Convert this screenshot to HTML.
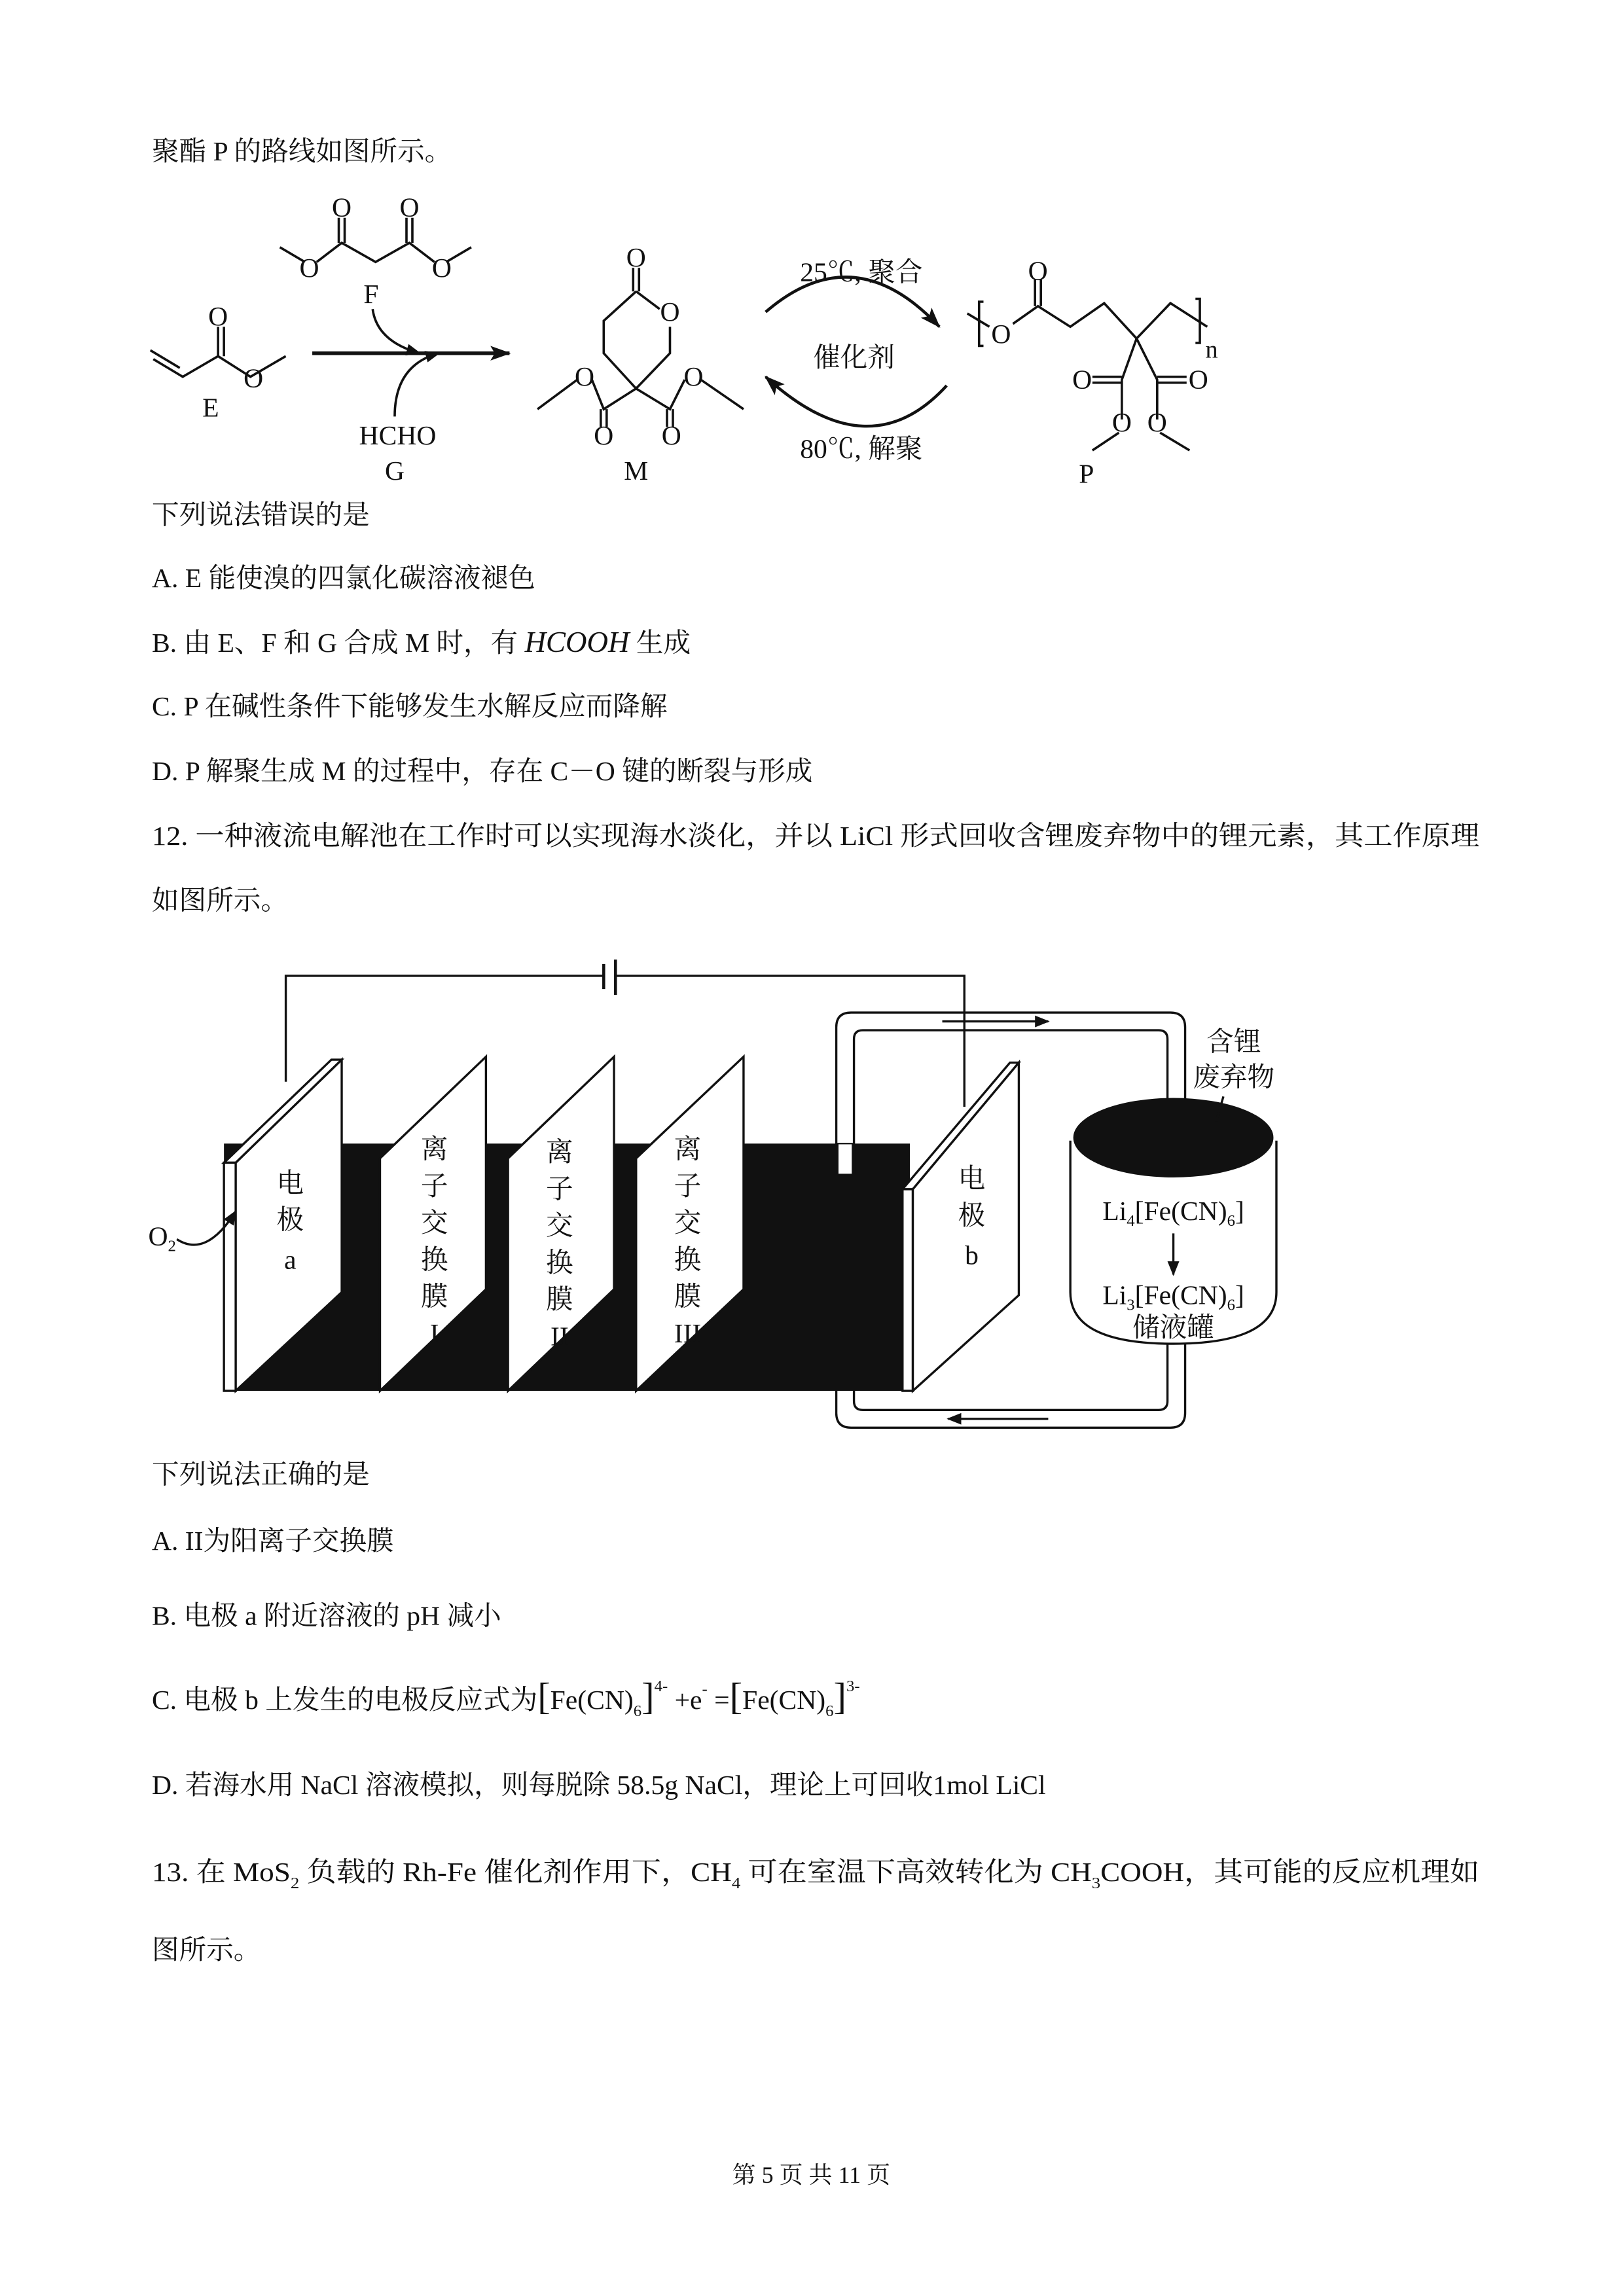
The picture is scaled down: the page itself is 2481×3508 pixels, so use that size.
<!DOCTYPE html>
<html><head><meta charset="utf-8"><style>
html,body{margin:0;padding:0;background:#fff}
svg{display:block}
text{font-family:"Liberation Serif","Noto Serif CJK SC",serif;fill:#111}
</style></head><body>
<svg width="2481" height="3508" viewBox="0 0 1103 1560" xmlns="http://www.w3.org/2000/svg">
<defs>
<marker id="ah" markerWidth="10" markerHeight="8" refX="9" refY="4" orient="auto" markerUnits="userSpaceOnUse"><path d="M0,0 L10,4 L0,8 Z" fill="#111"/></marker>
<marker id="ah2" markerWidth="14" markerHeight="10" refX="13" refY="5" orient="auto" markerUnits="userSpaceOnUse"><path d="M0,0 L14,5 L0,10 L3,5 Z" fill="#111"/></marker>
</defs>
<g font-size="18.5" transform="translate(0,-5)">
<text x="103" y="114">聚酯 P 的路线如图所示。</text>
<text x="103" y="361">下列说法错误的是</text>
<text x="103" y="404">A. E 能使溴的四氯化碳溶液褪色</text>
<text x="103" y="448">B.  由 E、F 和 G 合成 M 时，有 <tspan font-style="italic" font-size="20">HCOOH</tspan> 生成</text>
<text x="103" y="491">C. P 在碱性条件下能够发生水解反应而降解</text>
<text x="103" y="535">D. P 解聚生成 M 的过程中，存在 C－O 键的断裂与形成</text>
<text x="103" y="579" textLength="902" lengthAdjust="spacingAndGlyphs">12. 一种液流电解池在工作时可以实现海水淡化，并以 LiCl 形式回收含锂废弃物中的锂元素，其工作原理</text>
<text x="103" y="623">如图所示。</text>
<text x="103" y="1013">下列说法正确的是</text>
<text x="103" y="1058">A. II为阳离子交换膜</text>
<text x="103" y="1109">B.  电极 a 附近溶液的 pH 减小</text>
<text x="103" y="1166">C.  电极 b 上发生的电极反应式为<tspan font-size="26">[</tspan>Fe(CN)<tspan font-size="11" dy="5">6</tspan><tspan font-size="26" dy="-5">]</tspan><tspan font-size="11" dy="-12">4-</tspan><tspan dy="12"> +e</tspan><tspan font-size="11" dy="-10">-</tspan><tspan dy="10"> =</tspan><tspan font-size="26">[</tspan>Fe(CN)<tspan font-size="11" dy="5">6</tspan><tspan font-size="26" dy="-5">]</tspan><tspan font-size="11" dy="-12">3-</tspan></text>
<text x="103" y="1224">D.  若海水用 NaCl 溶液模拟，则每脱除 58.5g NaCl，理论上可回收1mol LiCl</text>
<text x="103" y="1283" textLength="902" lengthAdjust="spacingAndGlyphs">13. 在 MoS<tspan font-size="11" dy="5">2</tspan><tspan dy="-5"> 负载的 Rh-Fe 催化剂作用下，CH</tspan><tspan font-size="11" dy="5">4</tspan><tspan dy="-5"> 可在室温下高效转化为 CH</tspan><tspan font-size="11" dy="5">3</tspan><tspan dy="-5">COOH，其可能的反应机理如</tspan></text>
<text x="103" y="1336">图所示。</text>
<text x="551" y="1488" text-anchor="middle" font-size="16">第 5 页 共 11 页</text>
</g>
<!-- chemistry -->
<g stroke="#111" stroke-width="1.6" fill="none">
<path d="M104,244 L124,256 L148,242 L170,256 L194,242"/>
<path d="M102,238 L122,250"/>
<path d="M148,242 L148,222 M152,242 L152,222"/>
<path d="M190,168 L207,178 M215,178 L232,165 L255,178 L278,165 L295,178 M303,178 L320,168"/>
<path d="M230,165 L230,148 M234,165 L234,148 M276,165 L276,148 M280,165 L280,148"/>
<path d="M212,240 L346,240" stroke-width="2.5" marker-end="url(#ah2)"/>
<path d="M253,210 Q256,232 285,240" marker-end="url(#ah)"/>
<path d="M268,283 Q268,248 298,240" marker-end="url(#ah)"/>
<path d="M432,198 L448,210 M455,222 L455,240 L432,264 L410,240 L410,218 L432,198"/>
<path d="M430,198 L430,182 M434,198 L434,182"/>
<path d="M432,264 L410,278 L402,258 M392,258 L365,278 M432,264 L455,278 L465,258 M476,258 L505,278"/>
<path d="M408,278 L408,290 M412,278 L412,290 M453,278 L453,290 M457,278 L457,290"/>
<path d="M520,212 Q580,160 638,222" stroke-width="2" marker-end="url(#ah2)"/>
<path d="M643,262 Q590,320 520,256" stroke-width="2" marker-end="url(#ah2)"/>
<path d="M668,205 L665,205 L665,235 L668,235 M812,203 L815,203 L815,233 L812,233"/>
<path d="M657,213 L672,222 M688,220 L705,208 L727,222 L750,206 L772,230 L795,206 L820,222"/>
<path d="M703,208 L703,190 M707,208 L707,190"/>
<path d="M772,230 L762,258 L762,285 M772,230 L786,258 L786,285"/>
<path d="M762,256 L742,256 M762,260 L742,260 M786,256 L806,256 M786,260 L806,260"/>
<path d="M760,294 L742,306 M788,294 L808,306"/>
</g>
<g font-size="18.5" text-anchor="middle">
<text x="148" y="221">O</text><text x="172" y="263">O</text><text x="143" y="283">E</text>
<text x="232" y="147">O</text><text x="278" y="147">O</text><text x="210" y="188">O</text><text x="300" y="188">O</text><text x="252" y="206">F</text>
<text x="270" y="302">HCHO</text><text x="268" y="326">G</text>
<text x="432" y="181">O</text><text x="455" y="218">O</text><text x="397" y="262">O</text><text x="471" y="262">O</text>
<text x="410" y="302">O</text><text x="456" y="302">O</text><text x="432" y="326">M</text>
<text x="585" y="191">25℃, 聚合</text><text x="580" y="249">催化剂</text><text x="585" y="311">80℃, 解聚</text>
<text x="705" y="190">O</text><text x="680" y="233">O</text><text x="823" y="243" font-size="17">n</text>
<text x="735" y="264">O</text><text x="814" y="264">O</text><text x="762" y="293">O</text><text x="786" y="293">O</text>
<text x="738" y="328">P</text>
</g>
<!-- cell diagram -->
<g stroke="#111" stroke-width="1.5" fill="none">
<path d="M194,735 L194,663 L410,663 M418,663 L655,663 L655,752"/>
<path d="M410,655 L410,672 M418,652 L418,676" stroke-width="2"/>
</g>
<rect x="152" y="777" width="466" height="168" fill="#111"/>
<g fill="none" stroke="#111" stroke-width="1.5">
<path d="M568,798 L568,698 Q568,688 578,688 L795,688 Q805,688 805,698 L805,760"/>
<path d="M580,798 L580,706 Q580,700 586,700 L787,700 Q793,700 793,706 L793,760"/>
<path d="M568,945 L568,960 Q568,970 578,970 L795,970 Q805,970 805,960 L805,905"/>
<path d="M580,945 L580,952 Q580,958 586,958 L787,958 Q793,958 793,952 L793,905"/>
</g>
<rect x="569" y="777" width="10" height="21" fill="#fff" stroke="#111" stroke-width="1"/>
<path d="M640,694 L712,694" stroke="#111" stroke-width="1.5" marker-end="url(#ah)"/>
<path d="M712,964 L644,964" stroke="#111" stroke-width="1.5" marker-end="url(#ah)"/>
<g stroke="#111" stroke-width="1.5" fill="#fff">
<path d="M152,790 L225,720 L232,720 L160,790 Z"/>
<path d="M152,790 L160,790 L160,945 L152,945 Z"/>
<path d="M160,790 L232,720 L232,878 L160,945 Z"/>
<path d="M258,787 L330,718 L330,876 L258,945 Z"/>
<path d="M345,787 L417,718 L417,876 L345,945 Z"/>
<path d="M432,787 L505,718 L505,876 L432,945 Z"/>
<path d="M613,808 L686,722 L692,722 L620,808 Z"/>
<path d="M613,808 L620,808 L620,945 L613,945 Z"/>
<path d="M620,808 L692,722 L692,880 L620,945 Z"/>
</g>
<path d="M727,775 L727,878 Q727,913 797,913 Q867,913 867,878 L867,775" fill="#fff" stroke="#111" stroke-width="1.5"/>
<ellipse cx="797" cy="773" rx="68" ry="27" fill="#111"/>
<path d="M826,762 L831,745" stroke="#111" stroke-width="1.5"/>
<path d="M797,838 L797,866" stroke="#111" stroke-width="1.5" marker-end="url(#ah)"/>
<path d="M120,842 Q140,855 160,823" fill="none" stroke="#111" stroke-width="1.5" marker-end="url(#ah)"/>
<g font-size="18.5" text-anchor="middle">
<text x="197" y="810">电</text><text x="197" y="835">极</text><text x="197" y="862">a</text>
<text x="660" y="807">电</text><text x="660" y="832">极</text><text x="660" y="859">b</text>
<text x="295" y="787">离</text><text x="295" y="812">子</text><text x="295" y="837">交</text><text x="295" y="862">换</text><text x="295" y="887">膜</text><text x="295" y="912">I</text>
<text x="380" y="789">离</text><text x="380" y="814">子</text><text x="380" y="839">交</text><text x="380" y="864">换</text><text x="380" y="889">膜</text><text x="380" y="914">II</text>
<text x="467" y="787">离</text><text x="467" y="812">子</text><text x="467" y="837">交</text><text x="467" y="862">换</text><text x="467" y="887">膜</text><text x="467" y="912">III</text>
<text x="838" y="714">含锂</text><text x="838" y="738">废弃物</text>
<text x="797" y="829">Li<tspan font-size="11" dy="4">4</tspan><tspan dy="-4">[Fe(CN)</tspan><tspan font-size="11" dy="4">6</tspan><tspan dy="-4">]</tspan></text>
<text x="797" y="886">Li<tspan font-size="11" dy="4">3</tspan><tspan dy="-4">[Fe(CN)</tspan><tspan font-size="11" dy="4">6</tspan><tspan dy="-4">]</tspan></text>
<text x="797" y="908">储液罐</text>
<text x="110" y="846">O<tspan font-size="11" dy="4">2</tspan></text>
</g>
</svg>
</body></html>
